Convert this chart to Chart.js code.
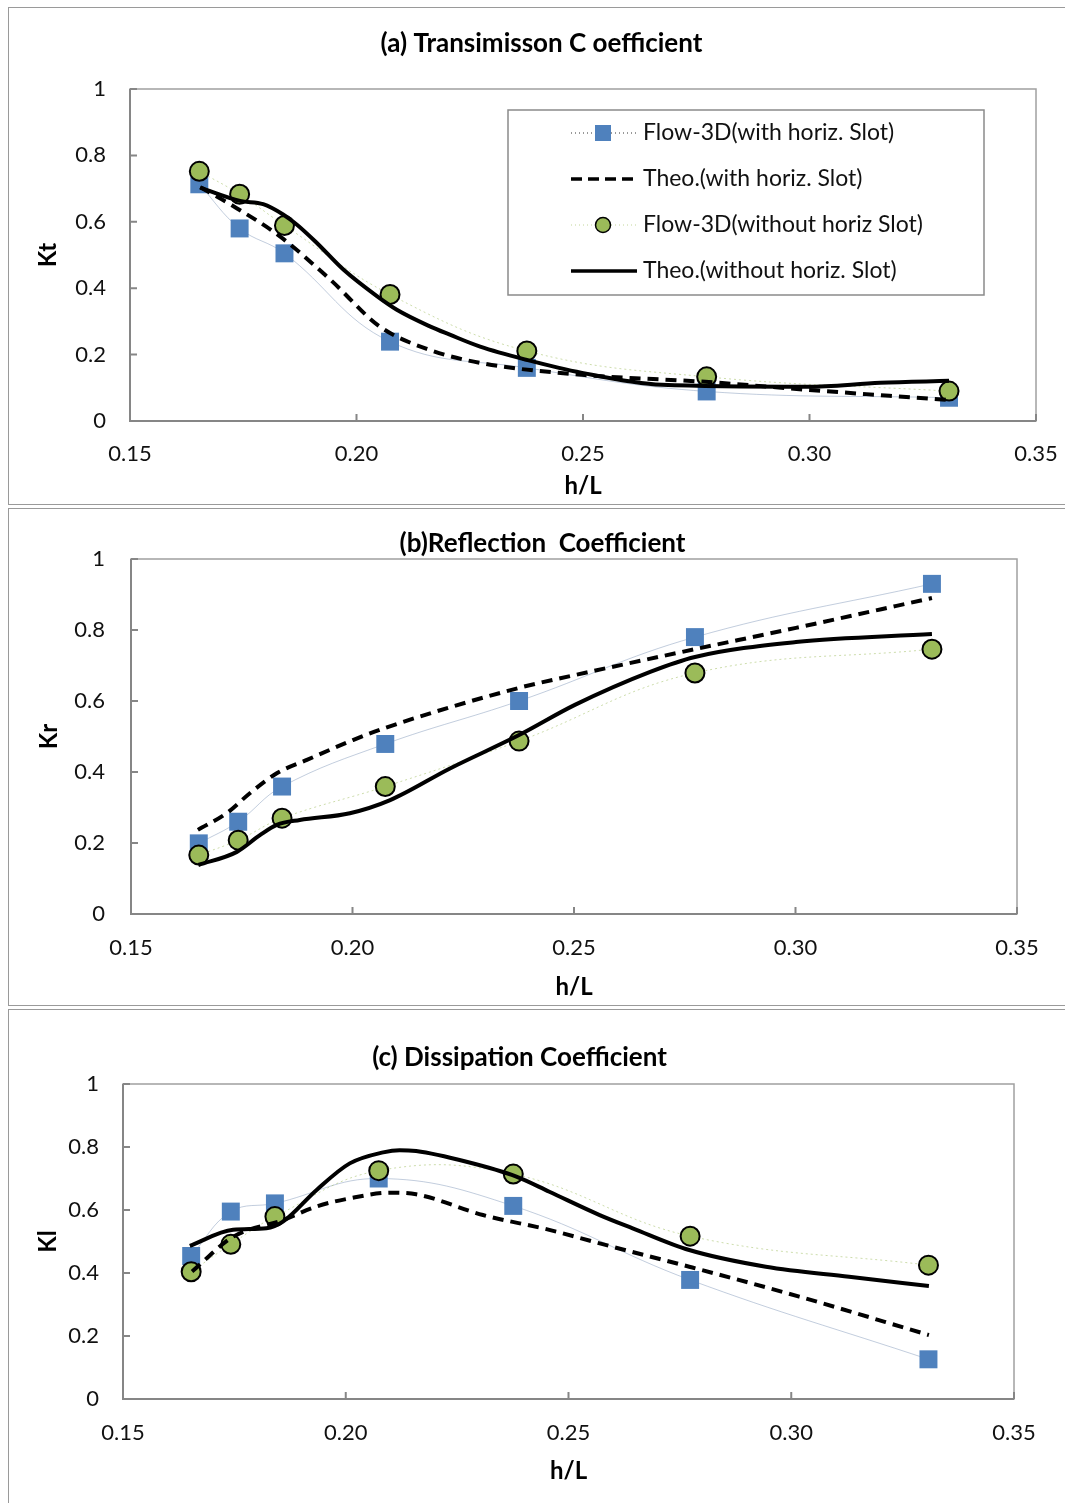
<!DOCTYPE html>
<html><head><meta charset="utf-8">
<script src="https://cdn.jsdelivr.net/npm/chart.js@4.4.1/dist/chart.umd.min.js"></script>
<style>
html,body{margin:0;padding:0;background:#fff}
body{width:1065px;height:1503px;overflow:hidden;position:relative;font-family:Lato,sans-serif}
.panel{position:absolute;left:8px;width:1070px;border:1.5px solid #9a9a9a;border-right:none;box-sizing:border-box}
canvas{position:absolute}
</style></head><body>
<div class="panel" style="top:7px;height:498px"></div>
<div class="panel" style="top:508px;height:498px"></div>
<div class="panel" style="top:1009px;height:500px"></div>
<canvas id="ca" width="1075" height="497" style="left:9px;top:8px"></canvas>
<canvas id="cb" width="1056" height="497" style="left:9px;top:509px"></canvas>
<canvas id="cc" width="1056" height="493" style="left:9px;top:1010px"></canvas>
<script>
// ---------- shared axes ----------
const hL = [0.1653, 0.1742, 0.1841, 0.2074, 0.2376, 0.2773, 0.3308];
const xTickValues = [0.15, 0.20, 0.25, 0.30, 0.35];
const yTickValues = [0, 0.2, 0.4, 0.6, 0.8, 1];
const seriesLabels = ['Flow-3D(with horiz. Slot)', 'Theo.(with horiz. Slot)', 'Flow-3D(without horiz Slot)', 'Theo.(without horiz. Slot)'];
const chartTitles = ['(a) Transimisson C oefficient', '(b)Reflection  Coefficient', '(c) Dissipation Coefficient'];
const xAxisTitle = 'h/L';
const yAxisTitles = ['Kt', 'Kr', 'Kl'];

// ---------- (a) Transmission ----------
const ktFlowSlot   = [0.713, 0.580, 0.505, 0.239, 0.160, 0.089, 0.070];
const ktFlowNoSlot = [0.752, 0.683, 0.589, 0.381, 0.211, 0.133, 0.090];
const ktTheoSlotX  = [0.1655, 0.1721, 0.1831, 0.1942, 0.2052, 0.2162, 0.2273, 0.2498, 0.2770, 0.2995, 0.3308];
const ktTheoSlotY  = [0.704, 0.653, 0.556, 0.426, 0.284, 0.214, 0.175, 0.139, 0.118, 0.094, 0.063];
const ktTheoNoSlotX = [0.1655, 0.1743, 0.1794, 0.1838, 0.1868, 0.1912, 0.1971, 0.2045, 0.2089, 0.2162, 0.2206, 0.2273, 0.2376, 0.2498, 0.2674, 0.2994, 0.3156, 0.3308];
const ktTheoNoSlotY = [0.703, 0.663, 0.653, 0.622, 0.592, 0.537, 0.456, 0.376, 0.335, 0.285, 0.260, 0.224, 0.184, 0.145, 0.109, 0.103, 0.115, 0.121];

// ---------- (b) Reflection ----------
const krFlowSlot   = [0.199, 0.260, 0.359, 0.479, 0.600, 0.780, 0.930];
const krFlowNoSlot = [0.166, 0.208, 0.270, 0.359, 0.487, 0.679, 0.746];
const krTheoSlotX  = [0.1651, 0.1717, 0.1769, 0.1830, 0.1897, 0.2001, 0.2073, 0.2376, 0.2502, 0.2773, 0.3001, 0.3308];
const krTheoSlotY  = [0.237, 0.285, 0.341, 0.397, 0.434, 0.490, 0.524, 0.637, 0.673, 0.746, 0.806, 0.890];
const krTheoNoSlotX = [0.1652, 0.1739, 0.1791, 0.1829, 0.1881, 0.1994, 0.2085, 0.2220, 0.2376, 0.2502, 0.2672, 0.2773, 0.3001, 0.3308];
const krTheoNoSlotY = [0.138, 0.175, 0.222, 0.251, 0.265, 0.284, 0.321, 0.410, 0.504, 0.589, 0.682, 0.724, 0.766, 0.789];

// ---------- (c) Dissipation ----------
const klFlowSlot   = [0.454, 0.595, 0.621, 0.700, 0.613, 0.378, 0.126];
const klFlowNoSlot = [0.404, 0.491, 0.579, 0.725, 0.714, 0.517, 0.425];
const klTheoSlotX  = [0.1655, 0.1747, 0.1859, 0.1934, 0.2009, 0.2100, 0.2158, 0.2308, 0.2457, 0.2570, 0.2771, 0.3018, 0.3309];
const klTheoSlotY  = [0.405, 0.515, 0.568, 0.611, 0.637, 0.655, 0.650, 0.584, 0.537, 0.494, 0.420, 0.325, 0.203];
const klTheoNoSlotX = [0.1650, 0.1747, 0.1822, 0.1859, 0.1934, 0.2009, 0.2084, 0.2121, 0.2158, 0.2271, 0.2383, 0.2457, 0.2570, 0.2644, 0.2771, 0.2943, 0.3130, 0.3309];
const klTheoNoSlotY = [0.486, 0.537, 0.542, 0.563, 0.663, 0.748, 0.783, 0.790, 0.787, 0.753, 0.706, 0.658, 0.584, 0.542, 0.473, 0.420, 0.388, 0.359];

const FONT = 'Lato, "Open Sans", sans-serif';
const pts = (xs, ys) => xs.map((x, i) => ({x: x, y: ys[i]}));

function datasets(flowSlot, theoSX, theoSY, flowNo, theoNX, theoNY) {
  return [
    {label: seriesLabels[0], data: pts(hL, flowSlot), showLine: true, tension: 0.4,
     borderColor: 'rgba(120,145,180,0.45)', borderWidth: 1,
     pointStyle: 'rect', pointRadius: 12.7, pointHoverRadius: 12.7,
     pointBackgroundColor: '#4F81BD', pointBorderColor: '#4F81BD', pointBorderWidth: 0, order: 4},
    {label: seriesLabels[1], data: pts(theoSX, theoSY), showLine: true, cubicInterpolationMode: 'monotone',
     borderColor: '#000', borderWidth: 4, borderDash: [11, 7], pointRadius: 0, pointHoverRadius: 0, order: 2},
    {label: seriesLabels[2], data: pts(hL, flowNo), showLine: true, tension: 0.4,
     borderColor: 'rgba(155,187,89,0.5)', borderWidth: 1, borderDash: [2, 3],
     pointStyle: 'circle', pointRadius: 9.5, pointHoverRadius: 9.5,
     pointBackgroundColor: '#9BBB59', pointBorderColor: '#000', pointBorderWidth: 2, order: 3},
    {label: seriesLabels[3], data: pts(theoNX, theoNY), showLine: true, cubicInterpolationMode: 'monotone',
     borderColor: '#000', borderWidth: 4, pointRadius: 0, pointHoverRadius: 0, order: 1}
  ];
}

const framePlugin = {
  id: 'frame',
  beforeDatasetsDraw(chart) {
    const {ctx, chartArea: a, scales} = chart;
    ctx.save();
    ctx.strokeStyle = '#a0a0a0'; ctx.lineWidth = 1.5;
    ctx.strokeRect(a.left, a.top, a.right - a.left, a.bottom - a.top);
    ctx.strokeStyle = '#868686'; ctx.lineWidth = 2;
    ctx.beginPath();
    ctx.moveTo(a.left, a.top); ctx.lineTo(a.left, a.bottom); ctx.lineTo(a.right, a.bottom);
    xTickValues.forEach(v => { const px = scales.x.getPixelForValue(v); ctx.moveTo(px, a.bottom); ctx.lineTo(px, a.bottom - 7); });
    yTickValues.forEach(v => { const py = scales.y.getPixelForValue(v); ctx.moveTo(a.left, py); ctx.lineTo(a.left + 7, py); });
    ctx.stroke();
    ctx.restore();
  }
};

const legendPlugin = {
  id: 'boxLegend',
  afterDraw(chart, args, o) {
    if (!o || !o.show) return;
    const {ctx, chartArea: a} = chart;
    const L = a.left + 378, T = a.top + 21, W = 476, H = 185;
    ctx.save();
    ctx.fillStyle = '#fff'; ctx.fillRect(L, T, W, H);
    ctx.strokeStyle = '#8a8a8a'; ctx.lineWidth = 1.5; ctx.strokeRect(L, T, W, H);
    chart.data.datasets.forEach((ds, i) => {
      const y = T + 23 + i * 46;
      const x0 = L + 63, x1 = L + 129, xm = L + 95;
      ctx.save();
      if (i === 0 || i === 2) {
        ctx.strokeStyle = i === 0 ? '#333' : 'rgba(155,187,89,0.6)';
        ctx.lineWidth = 1; ctx.setLineDash([1, 3]);
        ctx.beginPath(); ctx.moveTo(x0, y); ctx.lineTo(x1, y); ctx.stroke();
        ctx.setLineDash([]);
        if (i === 0) {
          ctx.fillStyle = ds.pointBackgroundColor; ctx.fillRect(xm - 8, y - 8, 16, 16);
        } else {
          ctx.beginPath(); ctx.arc(xm, y, 7.5, 0, Math.PI * 2);
          ctx.fillStyle = ds.pointBackgroundColor; ctx.fill();
          ctx.strokeStyle = '#000'; ctx.lineWidth = 1.5; ctx.stroke();
        }
      } else {
        ctx.strokeStyle = '#000'; ctx.lineWidth = 3.5;
        ctx.setLineDash(i === 1 ? [11, 6] : []);
        ctx.beginPath(); ctx.moveTo(x0, y); ctx.lineTo(x1, y); ctx.stroke();
      }
      ctx.restore();
      ctx.fillStyle = '#111'; ctx.font = '23px ' + FONT; ctx.textBaseline = 'middle'; ctx.textAlign = 'left';
      ctx.fillText(ds.label, L + 135, y);
    });
    ctx.restore();
  }
};

function makeChart(id, idx, ds, lay) {
  return new Chart(document.getElementById(id), {
    type: 'scatter',
    data: {datasets: ds},
    options: {
      responsive: false, animation: false, devicePixelRatio: 1,
      layout: {padding: {left: lay.pl, right: lay.pr, top: 0, bottom: 0}},
      events: [],
      plugins: {
        legend: {display: false},
        tooltip: {enabled: false},
        title: {display: true, text: chartTitles[idx], color: '#000',
                font: {family: FONT, size: 26, weight: 'bold', lineHeight: 1.2},
                padding: {top: lay.tpt, bottom: lay.tpb}},
        boxLegend: {show: idx === 0}
      },
      scales: {
        x: {type: 'linear', min: 0.15, max: 0.35,
            afterBuildTicks: s => { s.ticks = xTickValues.map(v => ({value: v})); },
            afterFit: s => { s.height = lay.xh; },
            grid: {display: false, drawTicks: false}, border: {display: false},
            ticks: {padding: lay.xtp, color: '#111', font: {family: FONT, size: 22, lineHeight: 1.2},
                    callback: v => Number(v).toFixed(2), maxRotation: 0, autoSkip: false},
            title: {display: true, text: xAxisTitle, color: '#000',
                    font: {family: FONT, size: 24, weight: 'bold', lineHeight: 1.2},
                    padding: {top: 0, bottom: lay.xtb}}},
        y: {type: 'linear', min: 0, max: 1,
            afterBuildTicks: s => { s.ticks = yTickValues.map(v => ({value: v})); },
            afterFit: s => { s.width = lay.yw; },
            grid: {display: false, drawTicks: false}, border: {display: false},
            ticks: {padding: lay.ytp, color: '#111', font: {family: FONT, size: 22, lineHeight: 1.2},
                    callback: v => String(+Number(v).toFixed(1))},
            title: {display: true, text: yAxisTitles[idx], color: '#000',
                    font: {family: FONT, size: 24, weight: 'bold', lineHeight: 1.2},
                    padding: {top: lay.ytt, bottom: 0}}}
      }
    },
    plugins: [framePlugin, legendPlugin]
  });
}

makeChart('ca', 0, datasets(ktFlowSlot, ktTheoSlotX, ktTheoSlotY, ktFlowNoSlot, ktTheoNoSlotX, ktTheoNoSlotY),
  {pl: 38, pr: 48, yw: 83, xh: 84, tpt: 20.4, tpb: 29.4, xtp: 19.8, xtb: 4.6, ytp: 24, ytt: -13});
makeChart('cb', 1, datasets(krFlowSlot, krTheoSlotX, krTheoSlotY, krFlowNoSlot, krTheoNoSlotX, krTheoNoSlotY),
  {pl: 59, pr: 48, yw: 63, xh: 92, tpt: 19.4, tpb: -0.6, xtp: 20.8, xtb: 4.6, ytp: 26, ytt: -33});
makeChart('cc', 2, datasets(klFlowSlot, klTheoSlotX, klTheoSlotY, klFlowNoSlot, klTheoNoSlotX, klTheoNoSlotY),
  {pl: 16, pr: 51, yw: 98, xh: 104, tpt: 32.4, tpb: 10.4, xtp: 20.8, xtb: 17.6, ytp: 24, ytt: 9});
</script>
</body></html>
